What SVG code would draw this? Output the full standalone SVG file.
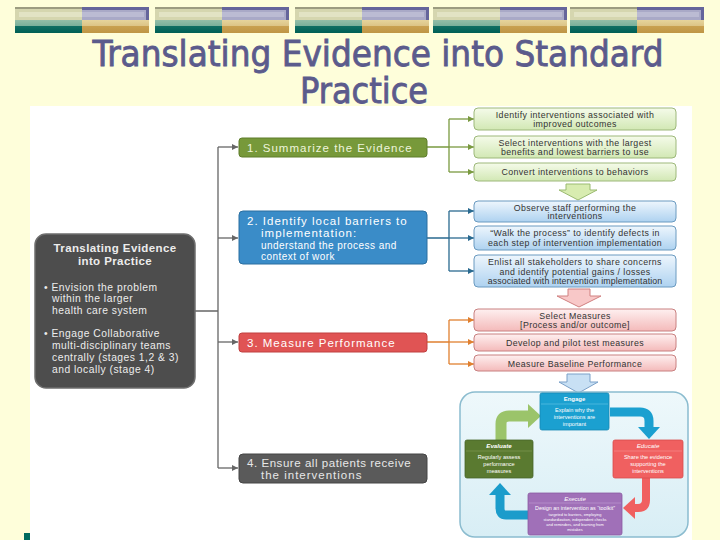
<svg xmlns="http://www.w3.org/2000/svg" xmlns:xlink="http://www.w3.org/1999/xlink" width="720" height="540" viewBox="0 0 720 540">
<defs>
<style>
.title{font-family:"DejaVu Sans Condensed","Liberation Sans",Arial,sans-serif;font-size:35px;fill:#5B5B8C;stroke:#5B5B8C;stroke-width:0.8px;text-anchor:middle}
.lb{font-family:"Liberation Sans",Arial,sans-serif;fill:#ECECEC}
.st{font-family:"Liberation Sans",Arial,sans-serif;font-size:11.5px;letter-spacing:1px}
.rb{font-family:"Liberation Sans",Arial,sans-serif;font-size:8.8px;letter-spacing:0.4px;fill:#333;text-anchor:middle}
.cy{font-family:"Liberation Sans",Arial,sans-serif;fill:#fff;text-anchor:middle}
.conn{fill:none;stroke-width:1.3}
</style>
<linearGradient id="gTeal" x1="0" y1="0" x2="0" y2="1"><stop offset="0" stop-color="#93BFA8"/><stop offset="0.45" stop-color="#7AB09A"/><stop offset="0.5" stop-color="#0E6E62"/><stop offset="1" stop-color="#005F55"/></linearGradient>
<linearGradient id="gGold" x1="0" y1="0" x2="0" y2="1"><stop offset="0" stop-color="#E6D49C"/><stop offset="0.45" stop-color="#DCC486"/><stop offset="0.5" stop-color="#C8A050"/><stop offset="1" stop-color="#BF9645"/></linearGradient>
<linearGradient id="gGreen" x1="0" y1="0" x2="0" y2="1"><stop offset="0" stop-color="#F5FBEA"/><stop offset="1" stop-color="#D2E8B4"/></linearGradient>
<linearGradient id="gBlue" x1="0" y1="0" x2="0" y2="1"><stop offset="0" stop-color="#EEF6FD"/><stop offset="1" stop-color="#AED2F0"/></linearGradient>
<linearGradient id="gPink" x1="0" y1="0" x2="0" y2="1"><stop offset="0" stop-color="#FEF0F0"/><stop offset="1" stop-color="#F4BABA"/></linearGradient>
<linearGradient id="gCyc" x1="0" y1="0" x2="0" y2="1"><stop offset="0" stop-color="#EEF8FB"/><stop offset="1" stop-color="#D8EEF5"/></linearGradient>
<g id="blk">
<rect x="0" y="0" width="67" height="13" fill="#D5D6AF"/>
<rect x="0" y="0" width="67" height="2" fill="#9C9C80"/>
<rect x="4" y="5" width="63" height="5" fill="#E2E3C4"/>
<rect x="67" y="0" width="67" height="13" fill="#A9A9C7"/>
<rect x="67" y="0" width="67" height="3" fill="#65659B"/>
<rect x="131" y="0" width="3" height="13" fill="#65659B"/>
<rect x="67" y="5" width="62" height="5" fill="#BBBBD3"/>
<rect x="0" y="13" width="67" height="13" fill="url(#gTeal)"/>
<rect x="67" y="13" width="67" height="13" fill="url(#gGold)"/>
</g>
<marker id="mGrey" markerUnits="userSpaceOnUse" markerWidth="6" markerHeight="6" refX="6" refY="3" orient="auto"><path d="M0,0 L6,3 L0,6 z" fill="#666"/></marker>
<marker id="mGreen" markerUnits="userSpaceOnUse" markerWidth="6" markerHeight="6" refX="6" refY="3" orient="auto"><path d="M0,0 L6,3 L0,6 z" fill="#7A9A40"/></marker>
<marker id="mBlue" markerUnits="userSpaceOnUse" markerWidth="6" markerHeight="6" refX="6" refY="3" orient="auto"><path d="M0,0 L6,3 L0,6 z" fill="#2A6A90"/></marker>
<marker id="mOrange" markerUnits="userSpaceOnUse" markerWidth="6" markerHeight="6" refX="6" refY="3" orient="auto"><path d="M0,0 L6,3 L0,6 z" fill="#E08030"/></marker>
</defs>

<rect x="0" y="0" width="720" height="540" fill="#FEFEDA"/>

<g id="banner">
<use xlink:href="#blk" x="15" y="7"/>
<use xlink:href="#blk" x="155" y="7"/>
<use xlink:href="#blk" x="295" y="7"/>
<use xlink:href="#blk" x="433" y="7"/>
<use xlink:href="#blk" x="570" y="7"/>
</g>

<g id="title">
<text class="title" x="378" y="66" textLength="571" lengthAdjust="spacingAndGlyphs">Translating Evidence into Standard</text>
<text class="title" x="364" y="103" textLength="128" lengthAdjust="spacingAndGlyphs">Practice</text>
</g>

<rect x="30" y="106" width="662" height="434" fill="#FFFFFF"/>
<rect x="24" y="533" width="6" height="7" fill="#006B5E"/>

<g id="connectors">
<path class="conn" stroke="#666" d="M195,311 H218 M218,147 V468"/>
<path class="conn" stroke="#666" marker-end="url(#mGrey)" d="M218,147 H238"/>
<path class="conn" stroke="#666" marker-end="url(#mGrey)" d="M218,238 H238"/>
<path class="conn" stroke="#666" marker-end="url(#mGrey)" d="M218,342 H238"/>
<path class="conn" stroke="#666" marker-end="url(#mGrey)" d="M218,468 H238"/>
<path class="conn" stroke="#7A9A40" d="M427,147 H449 M449,119 V172"/>
<path class="conn" stroke="#7A9A40" marker-end="url(#mGreen)" d="M449,119 H474"/>
<path class="conn" stroke="#7A9A40" marker-end="url(#mGreen)" d="M449,147 H474"/>
<path class="conn" stroke="#7A9A40" marker-end="url(#mGreen)" d="M449,172 H474"/>
<path class="conn" stroke="#2A6A90" d="M427,238 H449 M449,211 V271"/>
<path class="conn" stroke="#2A6A90" marker-end="url(#mBlue)" d="M449,211 H474"/>
<path class="conn" stroke="#2A6A90" marker-end="url(#mBlue)" d="M449,238 H474"/>
<path class="conn" stroke="#2A6A90" marker-end="url(#mBlue)" d="M449,271 H474"/>
<path class="conn" stroke="#E08030" d="M427,342 H449 M449,320 V364"/>
<path class="conn" stroke="#E08030" marker-end="url(#mOrange)" d="M449,320 H474"/>
<path class="conn" stroke="#E08030" marker-end="url(#mOrange)" d="M449,342 H474"/>
<path class="conn" stroke="#E08030" marker-end="url(#mOrange)" d="M449,364 H474"/>
</g>

<g id="main-box">
<rect x="35" y="234" width="160" height="154" rx="11" fill="#4D4D4D" stroke="#6E6E6E" stroke-width="1.5"/>
<text class="lb" x="115" y="252" font-size="11.5" font-weight="bold" text-anchor="middle" letter-spacing="0.4">Translating Evidence</text>
<text class="lb" x="115" y="265" font-size="11.5" font-weight="bold" text-anchor="middle" letter-spacing="0.4">into Practice</text>
<g font-size="10.3" letter-spacing="0.5">
<text class="lb" x="44" y="291">• Envision the problem</text>
<text class="lb" x="52" y="302">within the larger</text>
<text class="lb" x="52" y="314">health care system</text>
<text class="lb" x="44" y="337">• Engage Collaborative</text>
<text class="lb" x="52" y="349">multi-disciplinary teams</text>
<text class="lb" x="52" y="361">centrally (stages 1,2 &amp; 3)</text>
<text class="lb" x="52" y="373">and locally (stage 4)</text>
</g>
</g>

<g id="stage1">
<rect x="239" y="138" width="188" height="19" rx="3" fill="#77993A" stroke="#5E7D2A"/>
<text class="st" x="247" y="151.5" fill="#EEF5DC">1. Summarize the Evidence</text>
</g>
<g id="stage2">
<rect x="239" y="211" width="188" height="53" rx="4" fill="#3A8CC8" stroke="#2A6FA0"/>
<text class="st" x="247" y="225" fill="#FFFFFF">2. Identify local barriers to</text>
<text class="st" x="261" y="237" fill="#FFFFFF">implementation:</text>
<text class="st" x="261" y="249" fill="#FFFFFF" style="font-size:10px;letter-spacing:0.45px">understand the process and</text>
<text class="st" x="261" y="260" fill="#FFFFFF" style="font-size:10px;letter-spacing:0.45px">context of work</text>
</g>
<g id="stage3">
<rect x="239" y="333" width="188" height="19" rx="3" fill="#E05454" stroke="#C04040"/>
<text class="st" x="247" y="346.5" fill="#FFFFFF">3. Measure Performance</text>
</g>
<g id="stage4">
<rect x="239" y="454" width="188" height="29" rx="4" fill="#5A5A5A" stroke="#444"/>
<text class="st" x="247" y="467" fill="#E8E8E8" style="letter-spacing:0.55px">4. Ensure all patients receive</text>
<text class="st" x="261" y="479" fill="#E8E8E8">the interventions</text>
</g>

<g id="g1">
<rect x="474" y="108" width="202" height="22" rx="4" fill="url(#gGreen)" stroke="#9DB87A"/>
<text class="rb" x="575" y="118">Identify interventions associated with</text>
<text class="rb" x="575" y="127">improved outcomes</text>
</g>
<g id="g2">
<rect x="474" y="136" width="202" height="22" rx="4" fill="url(#gGreen)" stroke="#9DB87A"/>
<text class="rb" x="575" y="146">Select interventions with the largest</text>
<text class="rb" x="575" y="155">benefits and lowest barriers to use</text>
</g>
<g id="g3">
<rect x="474" y="163" width="202" height="18" rx="4" fill="url(#gGreen)" stroke="#9DB87A"/>
<text class="rb" x="575" y="175">Convert interventions to behaviors</text>
</g>
<g id="arrow-green">
<path d="M566,184 H590 V190 H597 L578,200 L559,190 H566 Z" fill="#D8ECB0" stroke="#9ABA70"/>
</g>

<g id="b1">
<rect x="474" y="201" width="202" height="21" rx="4" fill="url(#gBlue)" stroke="#6A9AC0"/>
<text class="rb" x="575" y="210.5">Observe staff performing the</text>
<text class="rb" x="575" y="219">interventions</text>
</g>
<g id="b2">
<rect x="474" y="226" width="202" height="24" rx="4" fill="url(#gBlue)" stroke="#6A9AC0"/>
<text class="rb" x="575" y="236">“Walk the process” to identify defects in</text>
<text class="rb" x="575" y="246">each step of intervention implementation</text>
</g>
<g id="b3">
<rect x="474" y="255" width="202" height="32" rx="4" fill="url(#gBlue)" stroke="#6A9AC0"/>
<text class="rb" x="575" y="265">Enlist all stakeholders to share concerns</text>
<text class="rb" x="575" y="274.5">and identify potential gains / losses</text>
<text class="rb" x="575" y="284" style="letter-spacing:0.1px">associated with intervention implementation</text>
</g>
<g id="arrow-red">
<path d="M568,289 H590 V296 H601 L579,307 L557,296 H568 Z" fill="#F8C8C8" stroke="#D08080"/>
</g>

<g id="p1">
<rect x="474" y="309" width="202" height="22" rx="4" fill="url(#gPink)" stroke="#C88080"/>
<text class="rb" x="575" y="318.5">Select Measures</text>
<text class="rb" x="575" y="327.5">[Process and/or outcome]</text>
</g>
<g id="p2">
<rect x="474" y="334" width="202" height="17" rx="4" fill="url(#gPink)" stroke="#C88080"/>
<text class="rb" x="575" y="345.5">Develop and pilot test measures</text>
</g>
<g id="p3">
<rect x="474" y="355" width="202" height="16" rx="4" fill="url(#gPink)" stroke="#C88080"/>
<text class="rb" x="575" y="366.5">Measure Baseline Performance</text>
</g>
<g id="arrow-blue">
<path d="M567,374 H590 V382 H598 L578.5,393 L559,382 H567 Z" fill="#C8E0F4" stroke="#7AA0C8"/>
</g>

<g id="cycle">
<rect x="460" y="392" width="228" height="145" rx="15" fill="url(#gCyc)" stroke="#8BBCCF" stroke-width="1.5"/>
<g id="cyc-arrows">
<path d="M501,440 V424 Q501,416 509,416 H529" fill="none" stroke="#9BC46A" stroke-width="11"/>
<polygon points="528,404 541,416 528,428" fill="#9BC46A"/>
<path d="M610,412 H640 Q649,412 649,421 V428" fill="none" stroke="#1BA0D0" stroke-width="9"/>
<polygon points="638,427 660,427 649,439" fill="#1BA0D0"/>
<path d="M646,478 V500 Q646,508 638,508 H634" fill="none" stroke="#F06060" stroke-width="8"/>
<polygon points="635,497 635,519 623,508" fill="#F06060"/>
<path d="M528,515 H506 Q500,515 500,508 V494" fill="none" stroke="#1B9CCB" stroke-width="9"/>
<polygon points="489,495 511,495 500,483" fill="#1B9CCB"/>
</g>
<g id="engage">
<rect x="540" y="393" width="69" height="37" rx="2" fill="#1BA0D0" stroke="#1588B4" stroke-width="0.8"/>
<line x1="541" y1="404" x2="608" y2="404" stroke="#5CC0E4" stroke-width="0.7"/>
<text class="cy" x="574.5" y="401" font-size="6" font-weight="bold">Engage</text>
<text class="cy" x="574.5" y="412" font-size="5.6">Explain why the</text>
<text class="cy" x="574.5" y="419" font-size="5.6">interventions are</text>
<text class="cy" x="574.5" y="426" font-size="5.6">important</text>
</g>
<g id="evaluate">
<rect x="465" y="440" width="68" height="38" rx="2" fill="#5A7A30" stroke="#48662A" stroke-width="0.8"/>
<line x1="466" y1="451" x2="532" y2="451" stroke="#7E9A52" stroke-width="0.7"/>
<text class="cy" x="499" y="448" font-size="6.2" font-style="italic" font-weight="bold">Evaluate</text>
<text class="cy" x="499" y="459" font-size="5.6">Regularly assess</text>
<text class="cy" x="499" y="466" font-size="5.6">performance</text>
<text class="cy" x="499" y="473" font-size="5.6">measures</text>
</g>
<g id="educate">
<rect x="613" y="440" width="70" height="38" rx="2" fill="#F06060" stroke="#D84C4C" stroke-width="0.8"/>
<line x1="614" y1="451" x2="682" y2="451" stroke="#F68A8A" stroke-width="0.7"/>
<text class="cy" x="648" y="448" font-size="6.2" font-style="italic">Educate</text>
<text class="cy" x="648" y="459" font-size="5.6">Share the evidence</text>
<text class="cy" x="648" y="466" font-size="5.6">supporting the</text>
<text class="cy" x="648" y="473" font-size="5.6">interventions</text>
</g>
<g id="execute">
<rect x="528" y="493" width="94" height="42" rx="2" fill="#A070B8" stroke="#8A5AA2" stroke-width="0.8"/>
<line x1="529" y1="503" x2="621" y2="503" stroke="#BC96CE" stroke-width="0.7"/>
<text class="cy" x="575" y="500.5" font-size="6" font-style="italic">Execute</text>
<text class="cy" x="575" y="509.5" font-size="5.4">Design an intervention as “toolkit”</text>
<text class="cy" x="575" y="515.5" font-size="3.9">targeted to barriers, employing</text>
<text class="cy" x="575" y="520.5" font-size="3.9">standardization, independent checks</text>
<text class="cy" x="575" y="525.5" font-size="3.9">and reminders, and learning from</text>
<text class="cy" x="575" y="530.5" font-size="3.9">mistakes</text>
</g>
</g>
</svg>
